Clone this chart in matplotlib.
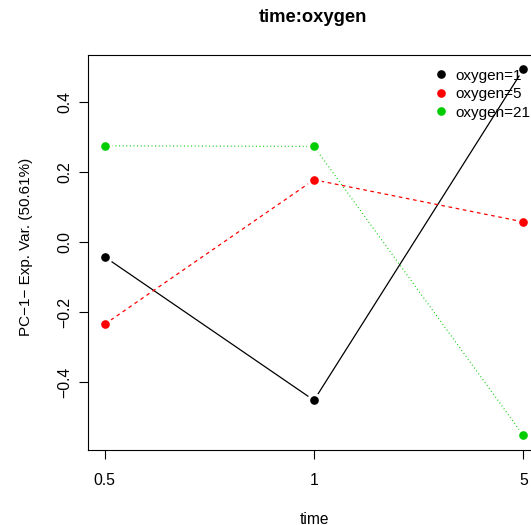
import numpy as np
import matplotlib.pyplot as plt
from matplotlib.lines import Line2D

plt.rcParams['font.family'] = ['Liberation Sans', 'DejaVu Sans']

time_labels = ["0.5", "1", "5"]
groups = ["oxygen=1", "oxygen=5", "oxygen=21"]
pc1_oxy1 = [-0.042, -0.451, 0.493]
pc1_oxy5 = [-0.234, 0.178, 0.058]
pc1_oxy21 = [0.275, 0.273, -0.551]

series = [pc1_oxy1, pc1_oxy5, pc1_oxy21]
colors = ["black", "#FF0000", "#00CD00"]
dashes = [None, (2.9, 2.9), (0.72, 2.16)]

fig = plt.figure(figsize=(5.31, 5.25), dpi=100)
# the plot box runs past the right edge of the picture, like the original
ax = fig.add_axes([88 / 531, 75 / 525, 452 / 531, 395.3 / 525])

x = np.arange(1, len(time_labels) + 1)
for vals, col, d in zip(series, colors, dashes):
    line, = ax.plot(x, vals, color=col, lw=0.9, zorder=2)
    if d is not None:
        line.set_dashes(d)
    # white halo makes the gap around points (R type="b")
    ax.plot(x, vals, ls="none", marker="o", ms=9.5, mfc="white", mec="white", zorder=3)
    ax.plot(x, vals, ls="none", marker="o", ms=5.2, mfc=col, mec=col, zorder=4)

ymin = min(min(s) for s in series)
ymax = max(max(s) for s in series)
pad = (ymax - ymin) * 0.04
ax.set_ylim(ymin - pad, ymax + pad)
ax.set_xlim(1 - 0.08, 3 + 0.08)

ax.set_xticks(x)
ax.set_xticklabels(time_labels)
ax.set_yticks([-0.4, -0.2, 0.0, 0.2, 0.4])
ax.set_yticklabels(["\u22120.4", "\u22120.2", "0.0", "0.2", "0.4"], rotation=90, va="center")
ax.tick_params(direction="out", length=6.5, width=0.8, labelsize=11.3, pad=10)
ax.tick_params(axis="y", pad=5)
for sp in ax.spines.values():
    sp.set_linewidth(0.8)

ax.set_xlabel("time", fontsize=11.2, labelpad=17)
ax.set_ylabel("PC\u22121\u2212 Exp. Var. (50.61%)", fontsize=11)
ax.yaxis.set_label_coords(-0.122, 0.515)
fig.suptitle("time:oxygen", fontsize=13.2, fontweight="bold", x=313 / 531, y=1 - 18 / 525, va="center")

handles = [Line2D([], [], ls="none", marker="o", ms=5.2, color=c) for c in colors]
ax.legend(handles, groups, loc="upper left", bbox_to_anchor=(426 / 531, 1 - 61 / 525),
          bbox_transform=fig.transFigure, frameon=False, fontsize=11,
          handlelength=1.0, handletextpad=0.45, labelspacing=0.3, borderpad=0)

fig.savefig("out.png", dpi=100)
